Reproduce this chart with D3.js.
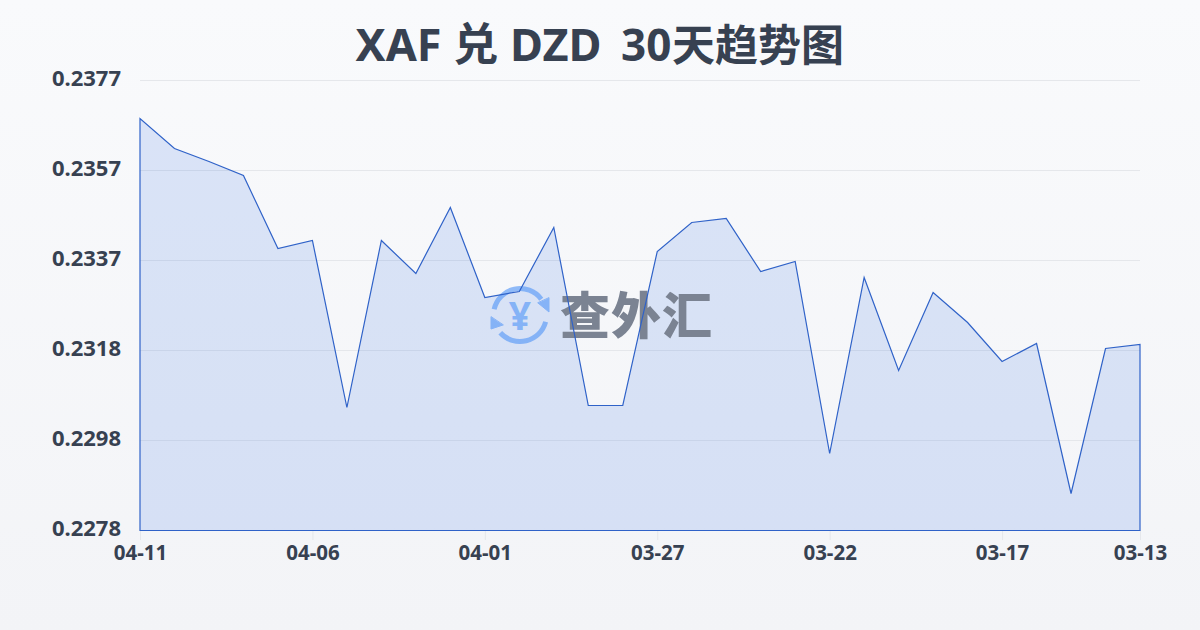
<!DOCTYPE html>
<html><head><meta charset="utf-8">
<script src="https://cdn.jsdelivr.net/npm/d3@7/dist/d3.min.js"></script>
<style>html,body{margin:0;padding:0;background:#f5f6f8}svg{display:block}</style>
</head><body><svg id="c" width="1200" height="630"></svg>
<script>
const titleParts = ["XAF 兑 DZD ","30","天趋势图"];
const dates = ["04-11","04-10","04-09","04-08","04-07","04-06","04-05","04-04","04-03","04-02","04-01","03-31","03-30","03-29","03-28","03-27","03-26","03-25","03-24","03-23","03-22","03-21","03-20","03-19","03-18","03-17","03-16","03-15","03-14","03-13"];
const rates = [0.236864,0.236204,0.235918,0.23561,0.234004,0.23418,0.230506,0.23418,0.233454,0.234906,0.232926,0.233058,0.234466,0.23055,0.23055,0.233938,0.234576,0.234664,0.233498,0.233718,0.229494,0.233366,0.23132,0.233036,0.232376,0.231518,0.231914,0.228614,0.231804,0.231892];
const yTicks = [0.2278,0.22978,0.23176,0.23374,0.23572,0.2377];
const xTickLabels = ["04-11","04-06","04-01","03-27","03-22","03-17","03-13"];
const watermark = "查外汇";

const font = "'Noto Sans','Noto Sans CJK SC',sans-serif";
const svg = d3.select("#c");
const defs = svg.append("defs");
const bg = defs.append("linearGradient").attr("id","bg").attr("x1",0).attr("y1",0).attr("x2",0).attr("y2",1);
bg.append("stop").attr("offset","0%").attr("stop-color","#f9fafc");
bg.append("stop").attr("offset","100%").attr("stop-color","#f3f4f7");
svg.append("rect").attr("width",1200).attr("height",630).attr("fill","url(#bg)");

const x = d3.scalePoint().domain(dates).range([140,1140]);
const y = d3.scaleLinear().domain([0.2278,0.2377]).range([530.5,80.5]);

const title = svg.append("text").attr("y",60.5)
  .attr("font-family",font).attr("font-weight",700).attr("fill","#374151");
title.append("tspan").attr("x",355.5).attr("font-size",45).text(titleParts[0]);
title.append("tspan").attr("x",621).attr("font-size",44).text(titleParts[1]);
title.append("tspan").attr("x",672).attr("font-size",43).text(titleParts[2]);

const yAxis = d3.axisLeft(y).tickValues(yTicks).tickFormat(d3.format(".4f")).tickSize(-1000).tickPadding(19);
const gy = svg.append("g").attr("transform","translate(140,-0.5)").call(yAxis);
gy.select(".domain").remove();
gy.selectAll(".tick line").attr("stroke","#e5e7eb").attr("stroke-width",1);
gy.selectAll(".tick text").attr("font-family",font).attr("font-size",22).attr("font-weight",700).attr("fill","#374151").attr("dy","0.25em");

const xAxis = d3.axisBottom(x).tickValues(dates.filter(d=>xTickLabels.includes(d))).tickSize(10).tickPadding(5);
const gx = svg.append("g").attr("transform","translate(0,530)").call(xAxis);
gx.select(".domain").remove();
gx.selectAll(".tick line").attr("stroke","#e5e7eb").attr("stroke-width",1);
gx.selectAll(".tick text").attr("font-family",font).attr("font-size",20.5).attr("font-weight",700).attr("fill","#374151");

const area = d3.area().x((d,i)=>x(dates[i])).y0(y(0.2278)).y1(d=>y(d));
const pts = rates.map((d,i)=>[x(dates[i]),y(d)]);
const outline = [[x(dates[0]),y(0.2278)],...pts,[x(dates[dates.length-1]),y(0.2278)]];
svg.append("path").datum(rates).attr("d",area).attr("fill","#2560e0").attr("fill-opacity",0.14);

const wm = svg.append("g");
const ic = wm.append("g").attr("transform","translate(520,315)").attr("opacity",0.66).attr("fill","none").attr("stroke","#5b9bf8").attr("stroke-linecap","round");
const arc = d3.arc().innerRadius(26.5).outerRadius(26.5);
ic.append("path").attr("d",arc({startAngle:-1.35,endAngle:0.93})).attr("stroke-width",5);
ic.append("path").attr("d",arc({startAngle:1.83,endAngle:3.98})).attr("stroke-width",5);
ic.append("path").attr("d",d3.line()([[29,-17],[29,-3],[18,-12]])+"Z").attr("fill","#5b9bf8").attr("stroke-width",1);
ic.append("path").attr("d",d3.line()([[-29,2],[-29,14],[-17,10]])+"Z").attr("fill","#5b9bf8").attr("stroke-width",1);
ic.append("text").attr("x",0).attr("y",15).attr("text-anchor","middle").attr("stroke","none").attr("fill","#5b9bf8")
  .attr("font-family",font).attr("font-size",39).attr("font-weight",700).text("¥");
wm.append("text").attr("x",560).attr("y",334).attr("font-family","'Noto Sans CJK SC',sans-serif").attr("font-size",50).attr("font-weight",900).attr("fill","#7b8392").attr("textLength",152).text(watermark);

svg.append("path").attr("d",d3.line()(outline)+"Z").attr("fill","none").attr("stroke","#2f62c8").attr("stroke-width",1.2).attr("stroke-linejoin","miter");
</script></body></html>
